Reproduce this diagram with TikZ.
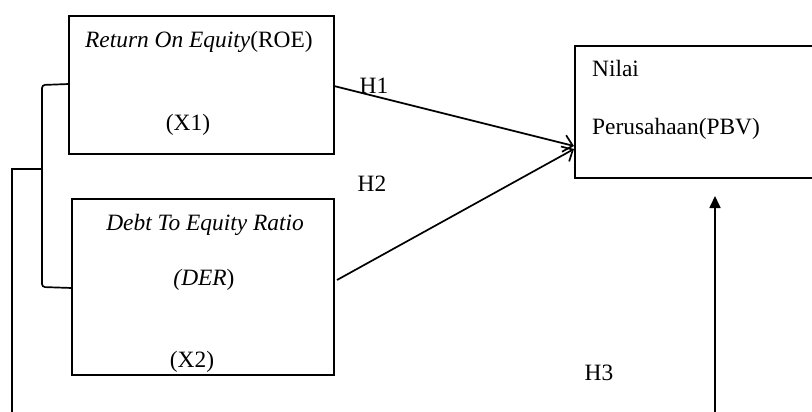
\documentclass[tikz,border=0pt]{standalone}
\usepackage{fontspec}
\setmainfont{Liberation Serif}
\usetikzlibrary{arrows.meta}
\begin{document}
\begin{tikzpicture}[x=1pt,y=-1pt,
  box/.style={draw,line width=1.9pt,inner sep=0pt},
  txt/.style={font=\fontsize{23.4}{28}\selectfont,inner sep=0pt,anchor=base},
  ln/.style={line width=1.7pt},
  openarr/.style={ln,-{Straight Barb[length=9pt,width=17pt,line width=1.7pt]}},
  solidarr/.style={ln,-{Triangle[length=12pt,width=11pt]}}]
\clip (0,0) rectangle (812,412);
\useasboundingbox (0,0) rectangle (812,412);
% boxes
\draw[box] (69,16) rectangle (334,154);
\coordinate (b1w) at (69,84);
\coordinate (b1e) at (334,86);
\draw[box] (72,199) rectangle (334,375);
\coordinate (b2w) at (72,288);
\coordinate (b2e) at (337,280);
\draw[box] (575,46) rectangle (830,178);
\coordinate (b3w) at (574,146);
\coordinate (b3s) at (715,196);
% texts
\node[txt,anchor=base west] (t1) at (85,48) {\textit{Return On Equity}(ROE)};
\node[txt] (t2) at (188,130) {(X1)};
\node[txt] (t3) at (205,230) {\textit{Debt To Equity Ratio}};
\node[txt] (t4) at (204,285) {\textit{(DER})};
\node[txt] (t5) at (192,367) {(X2)};
\node[txt,anchor=base west] (t6) at (592,77) {Nilai};
\node[txt,anchor=base west] (t7) at (592,134) {Perusahaan(PBV)};
\node[txt] (h1) at (374,93) {H1};
\node[txt] (h2) at (372,191) {H2};
\node[txt] (h3) at (599,380) {H3};
% bracket
\coordinate (k1) at (42,85);
\coordinate (k2) at (42,287);
\coordinate (k3) at (42,169);
\coordinate (k4) at (12,169);
\coordinate (k5) at (12,420);
\coordinate (up0) at (715,420);
\draw[ln,rounded corners=3pt] (b1w) -- (k1) -- (k2) -- (b2w);
\draw[ln] (k3) -- (k4) -- (k5);
% arrows
\draw[openarr] (b1e) -- (b3w);
\draw[openarr] (b2e) -- (574,149);
\draw[solidarr] (up0) -- (b3s);
\end{tikzpicture}
\end{document}
